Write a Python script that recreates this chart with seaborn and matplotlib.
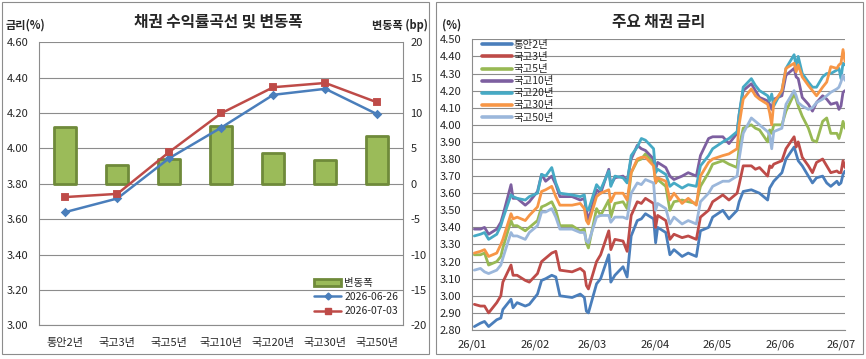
import numpy as np
import pandas as pd
import matplotlib
matplotlib.use("Agg")
import matplotlib.pyplot as plt
import matplotlib.dates as mdates
from matplotlib.patches import Rectangle, Patch
from matplotlib.lines import Line2D
import seaborn as sns

# left panel: curve on two dates + weekly change (bp)
tenors = ["통안2년", "국고3년", "국고5년", "국고10년", "국고20년", "국고30년", "국고50년"]
change_bp = [8.0, 2.6, 3.5, 8.1, 4.3, 3.3, 6.7]
curve_0626 = [3.640, 3.717, 3.945, 4.118, 4.303, 4.337, 4.193]
curve_0703 = [3.725, 3.743, 3.980, 4.199, 4.346, 4.370, 4.260]

# right panel: daily yields
dates = [
    "2026-01-02", "2026-01-05", "2026-01-07", "2026-01-09", "2026-01-13", "2026-01-15",
    "2026-01-16", "2026-01-20", "2026-01-21", "2026-01-23", "2026-01-27", "2026-01-29",
    "2026-02-02", "2026-02-04", "2026-02-06", "2026-02-09", "2026-02-11", "2026-02-13",
    "2026-02-19", "2026-02-23", "2026-02-25", "2026-02-26", "2026-02-27",
    "2026-03-03", "2026-03-05", "2026-03-09", "2026-03-10", "2026-03-12", "2026-03-16",
    "2026-03-18", "2026-03-20", "2026-03-23", "2026-03-25", "2026-03-27", "2026-03-31",
    "2026-04-01", "2026-04-02", "2026-04-06", "2026-04-08", "2026-04-10", "2026-04-14",
    "2026-04-17", "2026-04-21", "2026-04-23", "2026-04-27", "2026-04-29",
    "2026-05-04", "2026-05-07", "2026-05-11", "2026-05-12", "2026-05-14", "2026-05-18",
    "2026-05-20", "2026-05-22", "2026-05-26", "2026-05-27", "2026-05-28", "2026-05-29",
    "2026-06-02", "2026-06-04", "2026-06-08", "2026-06-09", "2026-06-10", "2026-06-12",
    "2026-06-15", "2026-06-17", "2026-06-19", "2026-06-22", "2026-06-24", "2026-06-26",
    "2026-06-29", "2026-06-30", "2026-07-01", "2026-07-02", "2026-07-03",
]
ms2 = [2.82, 2.84, 2.85, 2.82, 2.86, 2.87, 2.92, 2.98, 2.93, 2.96, 2.94, 2.95,
       3.01, 3.09, 3.10, 3.12, 3.11, 3.00, 2.99, 3.01, 2.99, 2.91, 2.90,
       3.07, 3.10, 3.24, 3.08, 3.12, 3.17, 3.11, 3.35, 3.44, 3.45, 3.48, 3.45,
       3.31, 3.40, 3.37, 3.24, 3.27, 3.23, 3.25, 3.23, 3.38, 3.40, 3.46,
       3.50, 3.45, 3.50, 3.55, 3.61, 3.62, 3.61, 3.60, 3.56, 3.63, 3.65, 3.67,
       3.72, 3.80, 3.87, 3.83, 3.79, 3.76, 3.70, 3.66, 3.69, 3.70, 3.66, 3.64,
       3.67, 3.65, 3.66, 3.71, 3.73]
ktb3 = [2.95, 2.94, 2.94, 2.90, 2.96, 3.00, 3.08, 3.18, 3.12, 3.12, 3.09, 3.08,
        3.13, 3.20, 3.22, 3.25, 3.26, 3.15, 3.14, 3.16, 3.14, 3.06, 3.04,
        3.20, 3.24, 3.38, 3.27, 3.33, 3.32, 3.26, 3.47, 3.55, 3.54, 3.57, 3.54,
        3.40, 3.47, 3.44, 3.33, 3.36, 3.34, 3.35, 3.33, 3.46, 3.50, 3.55,
        3.59, 3.56, 3.60, 3.65, 3.76, 3.76, 3.74, 3.75, 3.70, 3.76, 3.75, 3.77,
        3.79, 3.86, 3.93, 3.87, 3.90, 3.81, 3.76, 3.72, 3.78, 3.80, 3.76, 3.72,
        3.73, 3.72, 3.72, 3.79, 3.75]
ktb5 = [3.24, 3.24, 3.25, 3.18, 3.20, 3.23, 3.28, 3.44, 3.41, 3.41, 3.38, 3.40,
        3.44, 3.52, 3.53, 3.55, 3.50, 3.41, 3.41, 3.38, 3.39, 3.31, 3.28,
        3.51, 3.47, 3.56, 3.46, 3.54, 3.55, 3.51, 3.72, 3.79, 3.80, 3.83, 3.78,
        3.66, 3.68, 3.64, 3.50, 3.55, 3.56, 3.55, 3.54, 3.64, 3.72, 3.77,
        3.79, 3.77, 3.75, 3.87, 3.98, 4.00, 3.98, 3.97, 3.90, 3.97, 3.95, 4.00,
        4.00, 4.08, 4.18, 4.15, 4.11, 4.05, 3.98, 3.91, 3.90, 4.02, 4.04, 3.95,
        3.95, 3.92, 3.96, 4.02, 3.98]
ktb10 = [3.39, 3.39, 3.40, 3.36, 3.39, 3.43, 3.47, 3.65, 3.57, 3.57, 3.53, 3.55,
         3.61, 3.71, 3.67, 3.70, 3.65, 3.58, 3.58, 3.56, 3.57, 3.50, 3.44,
         3.62, 3.60, 3.74, 3.65, 3.69, 3.70, 3.67, 3.80, 3.88, 3.86, 3.85, 3.80,
         3.74, 3.78, 3.75, 3.70, 3.68, 3.70, 3.72, 3.70, 3.82, 3.92, 3.93,
         3.93, 3.89, 3.95, 4.06, 4.20, 4.24, 4.20, 4.16, 4.14, 4.12, 4.09, 4.15,
         4.17, 4.29, 4.33, 4.28, 4.27, 4.16, 4.12, 4.08, 4.13, 4.17, 4.15, 4.12,
         4.13, 4.09, 4.11, 4.19, 4.20]
ktb20 = [3.35, 3.36, 3.37, 3.33, 3.36, 3.41, 3.45, 3.59, 3.58, 3.57, 3.56, 3.58,
         3.60, 3.71, 3.70, 3.75, 3.66, 3.60, 3.59, 3.58, 3.59, 3.51, 3.50,
         3.65, 3.62, 3.73, 3.64, 3.70, 3.69, 3.66, 3.82, 3.87, 3.92, 3.91, 3.86,
         3.72, 3.74, 3.71, 3.64, 3.66, 3.63, 3.65, 3.64, 3.76, 3.82, 3.86,
         3.90, 3.92, 3.96, 4.06, 4.22, 4.27, 4.23, 4.20, 4.17, 4.14, 4.18, 4.11,
         4.20, 4.33, 4.41, 4.34, 4.40, 4.30, 4.25, 4.22, 4.22, 4.28, 4.30, 4.30,
         4.32, 4.33, 4.27, 4.36, 4.35]
ktb30 = [3.25, 3.26, 3.27, 3.23, 3.25, 3.30, 3.33, 3.48, 3.45, 3.46, 3.44, 3.47,
         3.52, 3.61, 3.62, 3.64, 3.58, 3.53, 3.53, 3.54, 3.51, 3.44, 3.42,
         3.58, 3.60, 3.62, 3.55, 3.60, 3.60, 3.56, 3.72, 3.80, 3.81, 3.81, 3.76,
         3.66, 3.69, 3.67, 3.56, 3.60, 3.54, 3.57, 3.53, 3.70, 3.78, 3.80,
         3.82, 3.83, 3.86, 4.00, 4.15, 4.21, 4.17, 4.15, 4.12, 4.07, 4.00, 4.13,
         4.20, 4.33, 4.36, 4.31, 4.35, 4.28, 4.23, 4.20, 4.17, 4.22, 4.25, 4.34,
         4.33, 4.35, 4.36, 4.44, 4.37]
ktb50 = [3.15, 3.16, 3.14, 3.13, 3.15, 3.18, 3.22, 3.37, 3.35, 3.35, 3.33, 3.37,
         3.41, 3.49, 3.49, 3.51, 3.46, 3.39, 3.39, 3.37, 3.37, 3.32, 3.31,
         3.46, 3.47, 3.47, 3.43, 3.46, 3.46, 3.45, 3.60, 3.66, 3.65, 3.68, 3.66,
         3.50, 3.54, 3.51, 3.42, 3.46, 3.42, 3.44, 3.42, 3.55, 3.60, 3.64,
         3.67, 3.67, 3.70, 3.80, 3.95, 4.04, 4.02, 4.00, 3.96, 3.94, 3.86, 3.96,
         3.98, 4.12, 4.20, 4.17, 4.13, 4.11, 4.09, 4.10, 4.13, 4.15, 4.17, 4.19,
         4.21, 4.22, 4.25, 4.29, 4.26]

colors = ["#4A7EBB", "#BE4B48", "#98B954", "#7D5FA0", "#46AAC5", "#F79646", "#9BB7DB"]
grid_c = "#8C8C8C"

sns.set_theme(style="white")
plt.rcParams['font.family'] = ['Noto Sans CJK KR', 'DejaVu Sans']
plt.rcParams['axes.unicode_minus'] = False
fs = 8
lfs = 7.5

fig = plt.figure(figsize=(8.66, 3.59), dpi=100)

# panel frames
for x0 in (0.0023, 0.5035):
    fig.patches.append(Rectangle((x0, 0.0139), 0.4935, 0.9805, transform=fig.transFigure,
                                 fill=False, edgecolor=grid_c, lw=0.8))

# ---- left chart
ax1 = fig.add_axes([0.0454, 0.0939, 0.4203, 0.7883])
ax1b = ax1.twinx()
sns.barplot(x=tenors, y=change_bp, color="#9BBB59", saturation=1, width=0.42,
            edgecolor="#6F8A3A", linewidth=2.0, ax=ax1)
for p in ax1.patches:
    p.set_joinstyle("round")
sns.pointplot(x=tenors, y=curve_0626, color=colors[0], markers="D", errorbar=None,
              markersize=3.5, linewidth=1.8, ax=ax1b)
sns.pointplot(x=tenors, y=curve_0703, color=colors[1], markers="s", errorbar=None,
              markersize=5, linewidth=1.8, ax=ax1b)

ax1.set_ylim(-20, 20)
ax1.set_yticks(range(-20, 21, 5))
ax1.yaxis.tick_right()
ax1.set_axisbelow(True)
ax1.grid(axis="y", color=grid_c, lw=0.8)
ax1b.set_ylim(3.0, 4.6)
ax1b.set_yticks(np.arange(3.0, 4.61, 0.2))
ax1b.set_yticklabels([f"{v:.2f}" for v in np.arange(3.0, 4.61, 0.2)])
ax1b.yaxis.tick_left()
ax1.set_xlim(-0.5, 6.5)
ax1.set_xticks(range(7))
ax1.set_xticklabels(tenors)
ax1.set_xticks(np.arange(-0.5, 7, 1), minor=True)
ax1.tick_params(axis="x", which="major", length=0, pad=9, labelsize=fs)
ax1.tick_params(axis="x", which="minor", length=4, color=grid_c, width=0.8)
ax1.tick_params(axis="y", length=0, pad=5, labelsize=fs)
ax1b.tick_params(axis="y", length=0, pad=8, labelsize=fs)
for a in (ax1, ax1b):
    a.set_xlabel("")
    a.set_ylabel("")
    a.spines["top"].set_visible(False)
for s in ("left", "right", "bottom"):
    ax1.spines[s].set_color(grid_c)
    ax1.spines[s].set_linewidth(0.8)
    ax1b.spines[s].set_visible(False)

h1 = [Patch(facecolor="#9BBB59", edgecolor="#6F8A3A", lw=2.0),
      Line2D([], [], color=colors[0], lw=1.8, marker="D", markersize=3.5),
      Line2D([], [], color=colors[1], lw=1.8, marker="s", markersize=5)]
ax1b.legend(h1, ["변동폭", "2026-06-26", "2026-07-03"], loc="upper left",
            bbox_to_anchor=(314 / 866, 1 - 278 / 359), bbox_transform=fig.transFigure,
            frameon=False, fontsize=lfs, handlelength=2.6, handleheight=0.75,
            handletextpad=0.3, labelspacing=0.4, borderpad=0, borderaxespad=0)

fig.text(0.2517, 0.939, "채권 수익률곡선 및 변동폭", ha="center", va="center",
         fontsize=11.3, fontweight="bold")
fig.text(0.006, 0.930, "금리(%)", ha="left", va="center", fontsize=fs, fontweight="bold")
fig.text(0.494, 0.930, "변동폭 (bp)", ha="right", va="center", fontsize=fs, fontweight="bold")

# ---- right chart
names = tenors
df = pd.DataFrame({"date": pd.to_datetime(dates), "통안2년": ms2, "국고3년": ktb3,
                   "국고5년": ktb5, "국고10년": ktb10, "국고20년": ktb20,
                   "국고30년": ktb30, "국고50년": ktb50})
df = df.melt(id_vars="date", var_name="series", value_name="rate")

ax2 = fig.add_axes([0.5454, 0.0808, 0.4304, 0.8097])
sns.lineplot(data=df, x="date", y="rate", hue="series", hue_order=names,
             palette=dict(zip(names, colors)), linewidth=2.0, ax=ax2, legend=False)
ax2.set_xlim(pd.Timestamp("2026-01-01"), pd.Timestamp("2026-07-03"))
ax2.set_ylim(2.8, 4.5)
yt = np.arange(2.8, 4.51, 0.1)
ax2.set_yticks(yt)
ax2.set_yticklabels([f"{v:.2f}" for v in yt])
ax2.set_xticks(pd.date_range("2026-01-01", "2026-07-01", freq="MS"))
ax2.xaxis.set_major_formatter(mdates.DateFormatter("%y/%m"))
ax2.grid(axis="y", color=grid_c, lw=0.8)
ax2.set_axisbelow(True)
ax2.set_xlabel("")
ax2.set_ylabel("")
ax2.tick_params(axis="x", length=4, color=grid_c, width=0.8, pad=3, labelsize=fs)
ax2.tick_params(axis="y", length=0, pad=8, labelsize=fs)
for s in ("top", "right"):
    ax2.spines[s].set_visible(False)
for s in ("left", "bottom"):
    ax2.spines[s].set_color(grid_c)
    ax2.spines[s].set_linewidth(0.8)

h2 = [Line2D([], [], color=c, lw=2.6) for c in colors]
ax2.legend(h2, names, loc="upper left", bbox_to_anchor=(482 / 866, 1 - 40 / 359),
           bbox_transform=fig.transFigure, frameon=False, fontsize=lfs,
           handlelength=2.9, handletextpad=0.1, labelspacing=0.2, borderpad=0,
           borderaxespad=0)

fig.text(0.7606, 0.939, "주요 채권 금리", ha="center", va="center",
         fontsize=11.3, fontweight="bold")
fig.text(0.522, 0.929, "(%)", ha="center", va="center", fontsize=fs, fontweight="bold")

fig.savefig("out.png", dpi=100)
plt.close()
